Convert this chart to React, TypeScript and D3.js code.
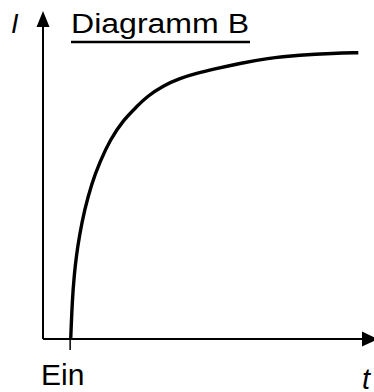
import * as d3 from "d3";
import React from "react";

const W = 374;
const H = 392;

// curve (t and I in relative units 0..100)
const tValues = [8.37, 8.85, 9.43, 10.12, 11.03, 12.54, 14.71, 17.22, 20.24, 24.26, 28.31, 31.33, 36.34, 41.39, 46.44, 51.45, 59.52, 67.58, 77.64, 87.7, 95.26];
const iValues = [0, 11.93, 19.57, 25.69, 31.8, 39.45, 47.61, 54.22, 60.86, 66.97, 71.04, 74.1, 77.46, 79.72, 81.25, 82.48, 84.31, 85.84, 86.85, 87.37, 87.55];

const tEin = 8.2;
const title = "Diagramm B";
const yLabel = "I";
const xLabel = "t";
const tickLabel = "Ein";

const x = d3.scaleLinear().domain([0, 100]).range([43, 374]);
const y = d3.scaleLinear().domain([0, 100]).range([339, 12]);

const font = "'Liberation Sans', Arial, sans-serif";

export default function App() {
  const points: [number, number][] = tValues.map((t, i) => [t, iValues[i]]);
  const line = d3
    .line<[number, number]>()
    .x((d) => x(d[0]))
    .y((d) => y(d[1]))
    .curve(d3.curveBasis);

  const x0 = x(0);
  const y0 = y(0);

  return (
    <svg
      width={W}
      height={H}
      style={{ position: "absolute", left: 0, top: 0, background: "#fff" }}
    >
      {/* y axis with arrow */}
      <line x1={x0} y1={y0} x2={x0} y2={24} stroke="#000" strokeWidth={2} />
      <polygon points={`${x0},11 ${x0 - 6.5},27 ${x0 + 6.5},27`} fill="#000" />
      {/* x axis with arrow */}
      <line x1={x0} y1={y0} x2={365} y2={y0} stroke="#000" strokeWidth={2} />
      <polygon points={`378,${y0} 362,${y0 - 7.5} 362,${y0 + 7.5}`} fill="#000" />

      {/* switch-on tick */}
      <line x1={x(tEin)} y1={y0} x2={x(tEin)} y2={y0 + 11} stroke="#000" strokeWidth={1.5} />

      <path d={line(points) ?? ""} fill="none" stroke="#000" strokeWidth={3.4} />

      <text x={11} y={33} fontFamily={font} fontSize={27} fontStyle="italic">
        {yLabel}
      </text>
      <text
        x={71}
        y={33}
        fontFamily={font}
        fontSize={27}
        textLength={178}
        lengthAdjust="spacingAndGlyphs"
      >
        {title}
      </text>
      <line x1={71} y1={42} x2={250} y2={42} stroke="#000" strokeWidth={2.5} />

      <text x={41} y={385} fontFamily={font} fontSize={30}>
        {tickLabel}
      </text>
      <text x={362} y={389} fontFamily={font} fontSize={29} fontStyle="italic">
        {xLabel}
      </text>
    </svg>
  );
}
